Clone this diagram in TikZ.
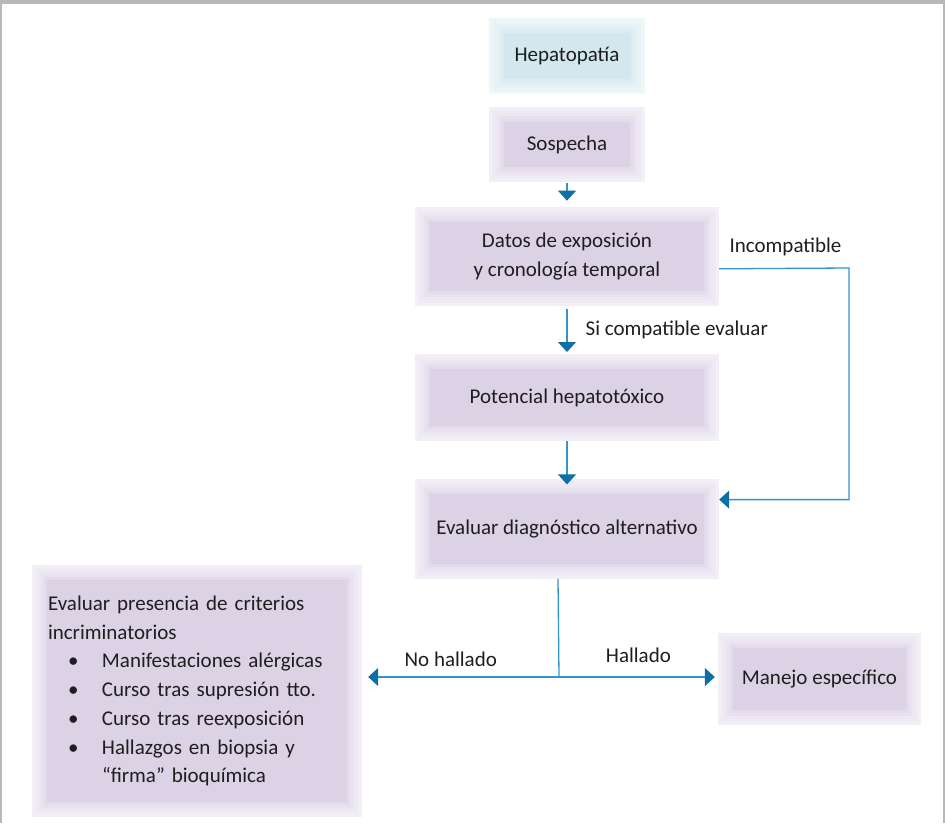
\documentclass[tikz,border=0pt]{standalone}
\usepackage{fontspec}
\setmainfont{Carlito}
\usepackage{xcolor}
\usepackage{tikz}
\usetikzlibrary{positioning,arrows.meta}
\definecolor{boxLav}{HTML}{DCD2E6}
\definecolor{boxBlue}{HTML}{D3E7EF}
\definecolor{arrLine}{HTML}{3593C8}
\definecolor{arrHead}{HTML}{0E6EA6}
\definecolor{txtDark}{HTML}{1E1E1E}
\newcommand{\critem}{\hspace*{20pt}\makebox[34pt][l]{\textbullet}}

\begin{document}
\begin{tikzpicture}[
  x=1pt, y=-1pt,
  font=\fontsize{21}{28.7}\selectfont, text=txtDark,
  box/.style={
    rectangle, fill=#1, draw=none,
    postaction={draw=white, opacity=0.2, line width=30pt},
    postaction={draw=white, opacity=0.2, line width=24pt},
    postaction={draw=white, opacity=0.2, line width=18pt},
    postaction={draw=white, opacity=0.2, line width=12pt},
    postaction={draw=white, opacity=0.2, line width=6pt},
    inner sep=4pt, align=center
  },
  box/.default=boxLav,
  arr/.style={-{Triangle[length=10pt,width=18pt,color=arrHead]},
    line width=1.3pt, arrLine},
  lbl/.style={inner sep=2pt, text=txtDark},
  frame/.style={black!28, line width=#1},
]
\useasboundingbox (0,0) rectangle (945,823);

% === Main column ===
\node[box=boxBlue, minimum width=156pt, minimum height=76pt] (hep) at (567,56) {Hepatopatía};
\node[box, minimum width=156pt, minimum height=75pt, below=13pt of hep] (sosp) {Sospecha};
\node[box, minimum width=304pt, minimum height=99pt, below=24pt of sosp] (datos)
  {Datos de exposición\\y cronología temporal};
\node[box, minimum width=304pt, minimum height=87pt, below=48pt of datos] (pot)
  {Potencial hepatotóxico};
\node[box, minimum width=304pt, minimum height=100pt, below=37pt of pot] (evdiag)
  {Evaluar diagnóstico alternativo};

% === Bottom row ===
\node[box, minimum width=330pt, minimum height=252pt, inner xsep=16pt,
  text width=298pt, align=left] (crit) at (197,691)
  {Evaluar presencia de criterios\\
   incriminatorios\\
   \critem Manifestaciones alérgicas\\
   \critem Curso tras supresión tto.\\
   \critem Curso tras reexposición\\
   \critem Hallazgos en biopsia y\\
   \hspace*{54pt}“firma” bioquímica};
\node[box, minimum width=203pt, minimum height=92pt] (manejo) at (819.5,679)
  {Manejo específico};

% === Page frame ===
\draw[frame=4pt] (0,2) -- (945,2);
\draw[frame=2.5pt] (1,823) -- (1,2);
\draw[frame=2.5pt] (944,823) -- (944,2);

% === Arrows ===
\draw[arr, shorten >=6pt] (sosp) -- (datos);
\draw[arr, shorten <=3pt, shorten >=2pt] (datos) --
  node[lbl, right=16pt] {Si compatible evaluar} (pot);
\draw[arr, shorten >=-6pt] (pot) -- (evdiag);

% === Incompatible loop ===
\coordinate (incR) at (849,268);
\draw[arr] ([yshift=-12.5]datos.east) -- (incR) |- ([yshift=29]evdiag.east);
\node[lbl, anchor=south] at (785.5,258) {Incompatible};

% === Branch ===
\coordinate (split) at (559,677);
\draw[arrLine, line width=1.3pt] ([xshift=-9]evdiag.south) -- (split);
\draw[arr, shorten >=6pt] (split) -- node[lbl, above=8pt, pos=0.55] {No hallado} (crit.east |- split);
\draw[arr, shorten >=3pt] (split) -- node[lbl, above=12pt] {Hallado} (manejo.west |- split);

\end{tikzpicture}
\end{document}
